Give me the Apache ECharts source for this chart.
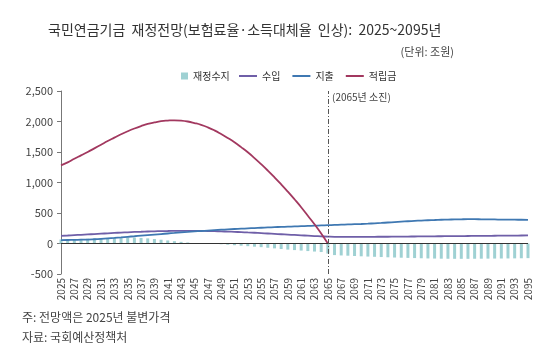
<!DOCTYPE html>
<html>
<head>
<meta charset="utf-8">
<script src="https://cdn.jsdelivr.net/npm/echarts@6/dist/echarts.min.js"></script>
<style>
html,body{margin:0;padding:0;background:#fff;}
#c{width:550px;height:354px;}
</style>
</head>
<body>
<div id="c"></div>
<script>
var years = ['2025','2026','2027','2028','2029','2030','2031','2032','2033','2034','2035','2036','2037','2038','2039','2040','2041','2042','2043','2044','2045','2046','2047','2048','2049','2050','2051','2052','2053','2054','2055','2056','2057','2058','2059','2060','2061','2062','2063','2064','2065','2066','2067','2068','2069','2070','2071','2072','2073','2074','2075','2076','2077','2078','2079','2080','2081','2082','2083','2084','2085','2086','2087','2088','2089','2090','2091','2092','2093','2094','2095'];

var balance = [66,68,72,75,79,82,86,90,94,97,98,96,91,84,74,62,50,38,27,17,8,3,-2,-6,-12,-20,-28,-36,-44,-52,-60,-70,-80,-90,-100,-108,-116,-124,-132,-140,-165,-190,-196,-200,-205,-210,-214,-218,-222,-226,-230,-233,-236,-239,-242,-245,-247,-249,-250,-251,-251,-251,-250,-249,-248,-247,-246,-245,-244,-242,-240];

var revenue = [126,131,137,143,149,155,161,167,173,179,184,189,193,197,200,203,205,207,208,208,208,207,205,202,199,195,191,186,181,176,170,164,158,152,146,140,134,128,122,117,113,110,109,109,109,109,110,110,111,111,112,113,114,115,116,117,118,119,120,121,122,123,124,125,126,127,128,129,130,131,132];

var expenditure = [55,57,59,62,65,70,76,83,91,100,110,119,128,137,146,155,164,173,182,190,198,205,212,219,226,232,238,243,248,253,258,263,268,272,276,280,284,288,292,296,300,304,308,312,316,320,325,331,337,344,351,358,365,371,376,381,385,389,392,395,397,398,398,397,396,394,392,391,390,389,388];

var fund = [1280,1330,1390,1445,1500,1560,1620,1680,1735,1790,1840,1885,1925,1960,1985,2005,2015,2020,2015,2000,1975,1945,1905,1855,1795,1730,1660,1580,1495,1400,1300,1195,1085,970,850,725,595,455,315,165,0,null,null,null,null,null,null,null,null,null,null,null,null,null,null,null,null,null,null,null,null,null,null,null,null,null,null,null,null,null,null];

var yTicks = {min:-500, max:2500, interval:500};
var depletionYear = '2065';

var chart = echarts.init(document.getElementById('c'), null, {renderer:'canvas'});
var FONT = '"Noto Sans CJK KR","Noto Sans",sans-serif';

chart.setOption({
  animation:false,
  backgroundColor:'#fff',
  textStyle:{fontFamily:FONT},
  title:[
    {text:'국민연금기금  재정전망(보험료율·소득대체율  인상):  2025~2095년', left:43, top:18,
     textStyle:{fontSize:14, fontWeight:'normal', color:'#333', fontFamily:FONT}},
    {text:'(단위: 조원)', right:91, top:41,
     textStyle:{fontSize:11, fontWeight:'normal', color:'#444', fontFamily:FONT}},
    {text:'주: 전망액은 2025년 불변가격', left:17, top:306,
     textStyle:{fontSize:12, fontWeight:'normal', color:'#444', fontFamily:FONT}},
    {text:'자료: 국회예산정책처', left:17, top:326,
     textStyle:{fontSize:12, fontWeight:'normal', color:'#444', fontFamily:FONT}}
  ],
  legend:[
    {data:['재정수지'], left:176, top:66, icon:'rect', itemWidth:7, itemHeight:7, itemGap:10,
     textStyle:{fontSize:10, color:'#333', fontFamily:FONT}},
    {data:['수입','지출','적립금'], left:234, top:66, icon:'rect', itemWidth:18, itemHeight:2, itemGap:12,
     textStyle:{fontSize:10, color:'#333', fontFamily:FONT}}
  ],
  graphic:[
    {type:'text', left:332, top:92, style:{text:'(2065년 소진)', fontSize:10, fill:'#444', fontFamily:FONT}}
  ],
  grid:{left:61, right:22, top:91, bottom:80, containLabel:false},
  xAxis:{
    type:'category', data:years, boundaryGap:false,
    axisLine:{show:false, onZero:false}, axisTick:{show:false},
    axisLabel:{rotate:90, interval:1, fontSize:10, color:'#444', margin:4, fontFamily:FONT}
  },
  yAxis:{
    type:'value', min:yTicks.min, max:yTicks.max, interval:yTicks.interval,
    axisLine:{show:true, lineStyle:{color:'#777', width:1}},
    axisTick:{show:true, length:4, lineStyle:{color:'#777'}},
    splitLine:{show:false},
    axisLabel:{fontSize:11, color:'#444', margin:8, fontFamily:FONT,
      formatter:function(v){return v.toLocaleString('en-US');}}
  },
  series:[
    {name:'재정수지', type:'bar', data:balance, barWidth:3, itemStyle:{color:'#9fd1d3'}, z:1,
     markLine:{silent:true, symbol:'none', label:{show:false},
       data:[{yAxis:0, lineStyle:{color:'#333', width:1, type:'solid'}},
             {xAxis:depletionYear, lineStyle:{color:'#555', width:1, type:[5,2,1,2]}}]}},
    {name:'수입', type:'line', data:revenue, smooth:true, showSymbol:false, symbol:'none',
     itemStyle:{color:'#6f5fa8'}, lineStyle:{color:'#6f5fa8', width:1.8}, z:3},
    {name:'지출', type:'line', data:expenditure, smooth:true, showSymbol:false, symbol:'none',
     itemStyle:{color:'#3f78b2'}, lineStyle:{color:'#3f78b2', width:1.8}, z:3},
    {name:'적립금', type:'line', data:fund, smooth:true, showSymbol:false, symbol:'none', connectNulls:false,
     itemStyle:{color:'#a2385f'}, lineStyle:{color:'#a2385f', width:1.8}, z:4}
  ]
});
</script>
</body>
</html>
